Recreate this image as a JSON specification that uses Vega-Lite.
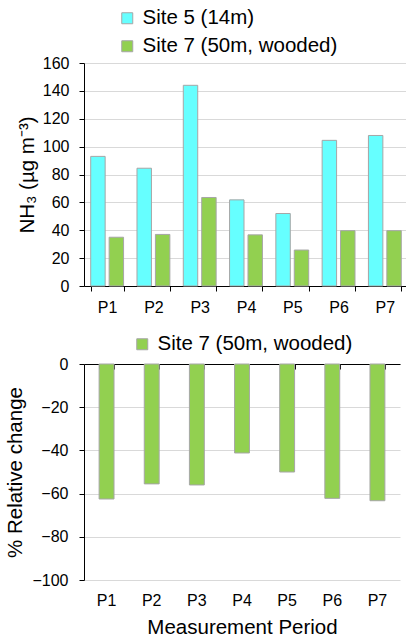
{
  "$schema": "https://vega.github.io/schema/vega-lite/v6.json",
  "padding": {"left": 5, "top": 8, "right": 0, "bottom": 0},
  "datasets": {
    "conc": [
      {"period": "P1", "site": "Site 5 (14m)", "value": 93},
      {"period": "P1", "site": "Site 7 (50m, wooded)", "value": 35},
      {"period": "P2", "site": "Site 5 (14m)", "value": 84.5},
      {"period": "P2", "site": "Site 7 (50m, wooded)", "value": 37},
      {"period": "P3", "site": "Site 5 (14m)", "value": 144},
      {"period": "P3", "site": "Site 7 (50m, wooded)", "value": 63.5},
      {"period": "P4", "site": "Site 5 (14m)", "value": 61.8},
      {"period": "P4", "site": "Site 7 (50m, wooded)", "value": 36.7},
      {"period": "P5", "site": "Site 5 (14m)", "value": 52},
      {"period": "P5", "site": "Site 7 (50m, wooded)", "value": 25.8},
      {"period": "P6", "site": "Site 5 (14m)", "value": 104.5},
      {"period": "P6", "site": "Site 7 (50m, wooded)", "value": 39.7},
      {"period": "P7", "site": "Site 5 (14m)", "value": 108},
      {"period": "P7", "site": "Site 7 (50m, wooded)", "value": 39.7}
    ],
    "change": [
      {"period": "P1", "site": "Site 7 (50m, wooded)", "value": -62.5},
      {"period": "P2", "site": "Site 7 (50m, wooded)", "value": -55.5},
      {"period": "P3", "site": "Site 7 (50m, wooded)", "value": -56},
      {"period": "P4", "site": "Site 7 (50m, wooded)", "value": -41.2},
      {"period": "P5", "site": "Site 7 (50m, wooded)", "value": -50},
      {"period": "P6", "site": "Site 7 (50m, wooded)", "value": -62.2},
      {"period": "P7", "site": "Site 7 (50m, wooded)", "value": -63.3}
    ]
  },
  "align": "none",
  "spacing": 19,
  "resolve": {"scale": {"color": "independent", "x": "independent", "y": "independent"}, "legend": {"color": "independent"}},
  "vconcat": [
    {
      "width": 324,
      "height": 223,
      "data": {"name": "conc"},
      "mark": {"type": "bar", "stroke": "#a6a6a6", "strokeWidth": 1},
      "encoding": {
        "x": {
          "field": "period", "type": "nominal",
          "scale": {"paddingInner": 0.29, "paddingOuter": 0.145},
          "axis": {"title": null, "labelAngle": 0, "tickBand": "extent", "tickSize": 5, "labelPadding": 8, "domainColor": "black", "tickColor": "black"}
        },
        "xOffset": {"field": "site", "type": "nominal", "scale": {"paddingInner": 0.216, "paddingOuter": 0}},
        "y": {
          "field": "value", "type": "quantitative",
          "scale": {"domain": [0, 160], "nice": false},
          "axis": {"title": "NH₃ (µg m⁻³)", "values": [0, 20, 40, 60, 80, 100, 120, 140, 160], "labelPadding": 10, "titlePadding": 5}
        },
        "color": {
          "field": "site", "type": "nominal",
          "scale": {"domain": ["Site 5 (14m)", "Site 7 (50m, wooded)"], "range": ["#66FFFF", "#92D050"]},
          "legend": {"orient": "none", "legendX": 33, "legendY": -55, "rowPadding": 7}
        }
      }
    },
    {
      "width": 316,
      "height": 216,
      "data": {"name": "change"},
      "resolve": {"axis": {"x": "independent"}},
      "layer": [
        {
          "mark": {"type": "bar", "stroke": "#a6a6a6", "strokeWidth": 1},
          "encoding": {
            "x": {
              "field": "period", "type": "nominal",
              "scale": {"paddingInner": 0.67, "paddingOuter": 0.335},
              "axis": {"title": "Measurement Period", "orient": "bottom", "labelAngle": 0, "domain": false, "ticks": false, "labelPadding": 12, "titlePadding": 9}
            },
            "y": {
              "field": "value", "type": "quantitative",
              "scale": {"domain": [-100, 0], "nice": false},
              "axis": {"title": "% Relative change", "values": [-100, -80, -60, -40, -20, 0], "labelPadding": 11, "titlePadding": 6}
            },
            "color": {
              "field": "site", "type": "nominal",
              "scale": {"domain": ["Site 7 (50m, wooded)"], "range": ["#92D050"]},
              "legend": {"orient": "none", "legendX": 48, "legendY": -30}
            }
          }
        },
        {
          "mark": {"type": "bar", "opacity": 0},
          "encoding": {
            "x": {
              "field": "period", "type": "nominal",
              "axis": {"orient": "top", "title": null, "labels": false, "tickBand": "extent", "tickSize": -5, "domainColor": "black", "tickColor": "black", "grid": false}
            },
            "y": {"field": "value", "type": "quantitative"}
          }
        }
      ]
    }
  ],
  "config": {
    "font": "Liberation Sans",
    "view": {"stroke": null},
    "axis": {"labelColor": "black", "titleColor": "black", "titleFontWeight": "normal", "titleFontSize": 20.5, "labelFontSize": 16, "domainColor": "black", "tickColor": "black", "tickSize": 5, "gridColor": "#d9d9d9"},
    "axisX": {"grid": false},
    "axisY": {"grid": true},
    "legend": {"title": null, "symbolType": "square", "symbolSize": 121, "symbolStrokeColor": "#a6a6a6", "symbolStrokeWidth": 1, "labelFontSize": 20.5, "labelLimit": 400, "labelColor": "black", "labelOffset": 5, "symbolOpacity": 1}
  }
}
